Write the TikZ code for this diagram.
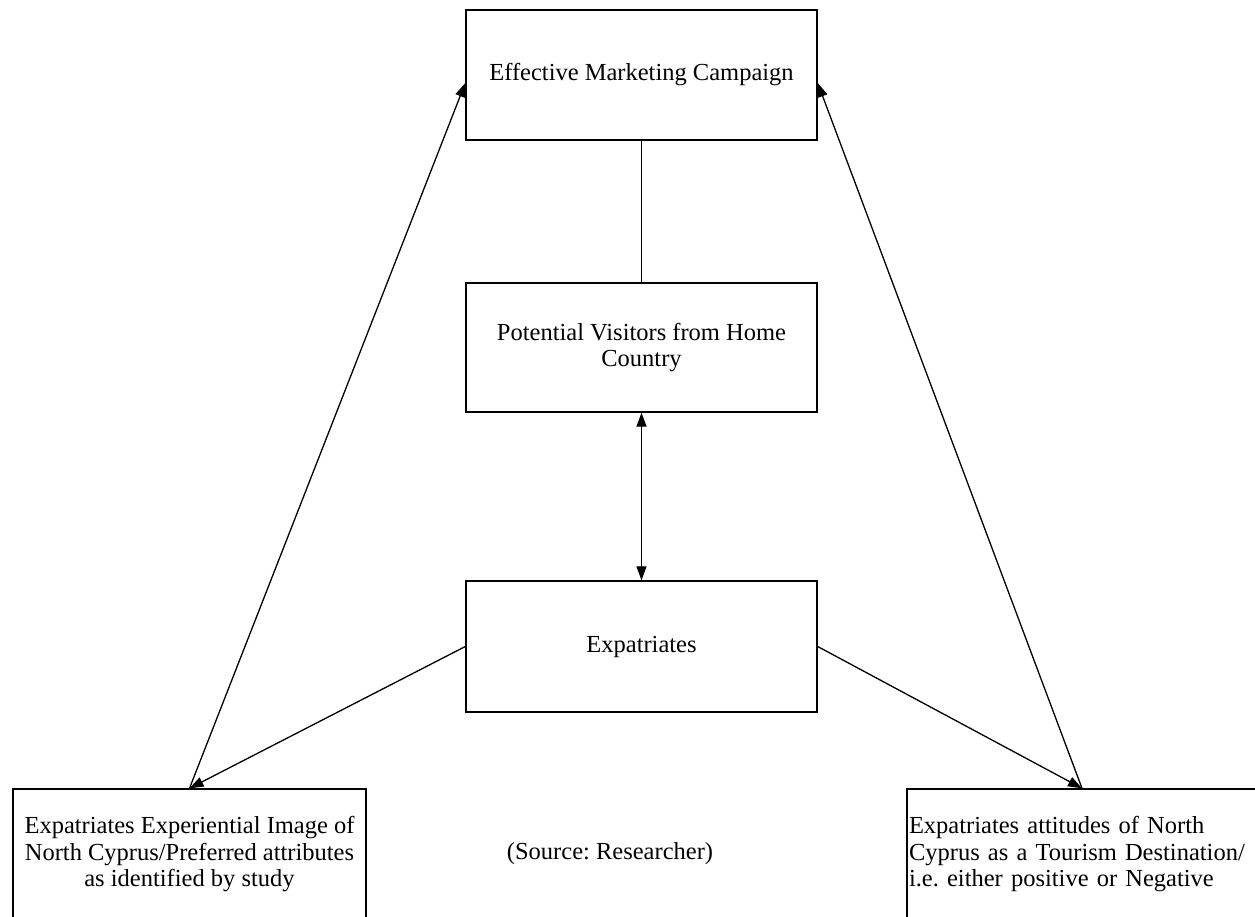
\documentclass[tikz,border=0pt]{standalone}
\usepackage{fontspec}
\setmainfont{Liberation Serif}
\usetikzlibrary{arrows.meta,calc}
\frenchspacing
\begin{document}
\begin{tikzpicture}[x=1pt,y=-1pt,
  box/.style={draw, line width=1.4pt, minimum width=351pt, minimum height=130pt, inner sep=0pt, align=center,
    font=\fontsize{24.5}{26.5}\selectfont},
  conn/.style={line width=1.3pt},
  arr/.style={conn, -{Triangle[length=14pt,width=10pt]}},
  darr/.style={conn, {Triangle[length=14pt,width=10pt]}-{Triangle[length=14pt,width=10pt]}},
  lbl/.style={font=\fontsize{24.5}{26.5}\selectfont, inner sep=0pt}]
\useasboundingbox (0,0) rectangle (1255,917);
\fill[white] (0,0) rectangle (1255,917);
\node[box] (tb) at (641.5,75) {Effective Marketing Campaign};
\node[box, minimum height=129pt] (pv) at (641.5,347.5) {Potential Visitors from Home\\Country};
\node[box, minimum height=131pt] (ex) at (641.5,646.5) {Expatriates};
\node[box, minimum width=353pt, minimum height=131pt] (lb) at (189.5,854.5) {Expatriates Experiential Image of\\North Cyprus/Preferred attributes\\as identified by study};
\node[box, minimum width=350pt, minimum height=131pt, text width=346pt, align=left] (rb) at (1082,854.5) {Expatriates attitudes of North\\Cyprus as a Tourism Destination/\\i.e. either positive or Negative};
\node[lbl] (src) at (610,854) {(Source: Researcher)};
\draw[conn] (tb.south) -- (pv.north);
\draw[darr] (pv.south) -- (ex.north);
\draw[arr] (ex.west) -- (lb.north);
\draw[arr] (ex.east) -- (rb.north);
\draw[arr] (lb.north) -- ($(tb.west)+(0,8)$);
\draw[arr] (rb.north) -- ($(tb.east)+(0,8)$);
\end{tikzpicture}
\end{document}
